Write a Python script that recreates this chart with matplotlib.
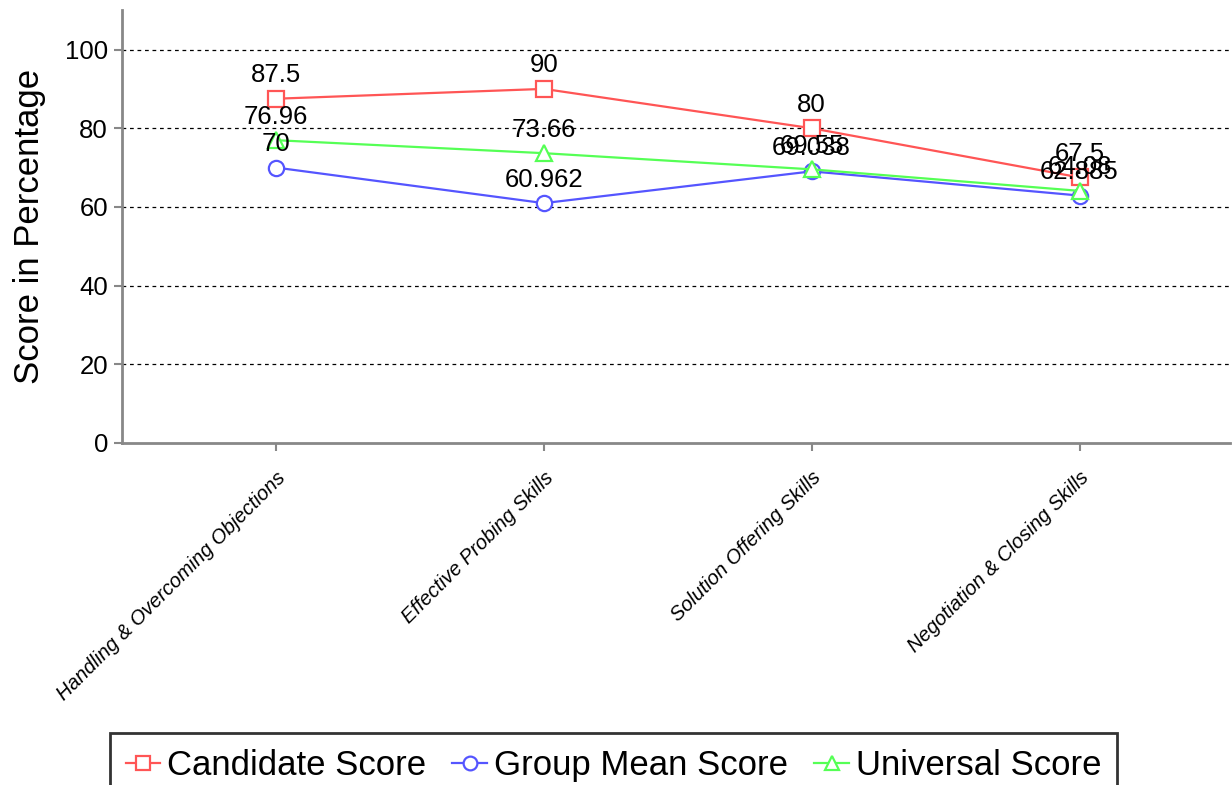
import matplotlib.pyplot as plt
import numpy as np

plt.rcParams['font.family'] = ['Liberation Sans', 'DejaVu Sans']

# data
skills = ["Handling & Overcoming Objections", "Effective Probing Skills",
          "Solution Offering Skills", "Negotiation & Closing Skills"]
candidate = [87.5, 90, 80, 67.5]
group_mean = [70, 60.962, 69.038, 62.885]
universal = [76.96, 73.66, 69.55, 64.08]

fig = plt.figure(figsize=(12.32, 7.85), dpi=100)
ax = fig.add_axes([0.099, 0.4357, 0.899, 0.5513])

x = np.arange(len(skills))

#the three series, drawn with hollow markers
series = [
    ("Candidate Score", candidate, "#ff5555", "s"),
    ("Group Mean Score", group_mean, "#5555ff", "o"),
    ("Universal Score", universal, "#55ff55", "^"),
]
for name, vals, col, mk in series:
    ax.plot(x, vals, color=col, marker=mk, markersize=11, markerfacecolor="white",
            markeredgecolor=col, markeredgewidth=1.6, linewidth=1.6, label=name)
    for xi, v in zip(x, vals):
        ax.annotate(f"{v:g}", (xi, v), xytext=(0, 17), textcoords="offset points",
                    ha="center", va="center", fontsize=18.5, color="black")

ax.set_xlim(-0.575, 3.56)
ax.set_ylim(0, 110)
ax.set_yticks([0, 20, 40, 60, 80, 100])
ax.set_xticks(x)
ax.set_xticklabels(skills, rotation=45, ha="right", va="top",
                   rotation_mode="anchor", fontsize=14.5, style="italic")
ax.tick_params(axis="x", pad=12, length=6, color="#888888", width=1.5)
ax.tick_params(axis="y", labelsize=18.5, length=6, color="#888888", width=1.5, pad=4)

ax.set_ylabel("Score in Percentage", fontsize=25, labelpad=14)

for y in [20, 40, 60, 80, 100]:
    ax.axhline(y, color="black", linestyle=(0, (3, 3)), linewidth=0.9, zorder=0)

for s in ["top", "right"]:
    ax.spines[s].set_visible(False)
for s in ["left", "bottom"]:
    ax.spines[s].set_color("#888888")
    ax.spines[s].set_linewidth(2)

leg = fig.legend(loc="upper left", bbox_to_anchor=(0.0893, 0.066), ncol=3,
                 fontsize=25, frameon=True, fancybox=False, handlelength=1.0,
                 handletextpad=0.2, columnspacing=0.75, borderpad=0.45,
                 borderaxespad=0, markerscale=0.9)
leg.get_frame().set_edgecolor("black")
leg.get_frame().set_linewidth(2)

fig.savefig("out.png", dpi=100)
